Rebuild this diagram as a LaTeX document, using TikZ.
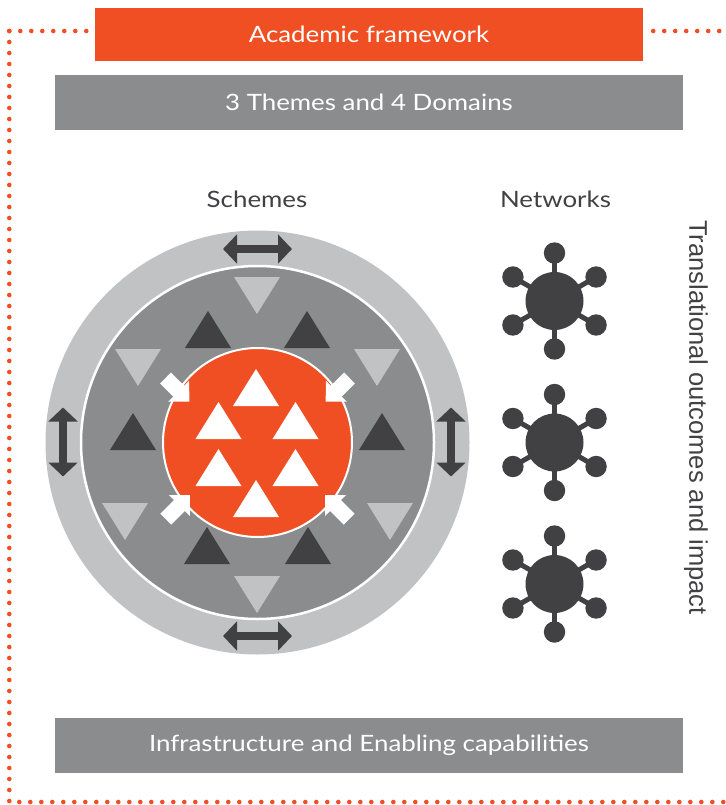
\documentclass[tikz,border=0pt]{standalone}
\usepackage{fontspec}
\setmainfont{Lato}[FakeStretch=1.15]
\newfontfamily\sidefont{Liberation Sans}
\usepackage{xcolor}
\usepackage{tikz}
\usetikzlibrary{positioning, arrows.meta}

\definecolor{acadorange}{HTML}{F04E23}
\definecolor{icondark}{HTML}{414042}
\definecolor{ringmid}{HTML}{8A8C8E}
\definecolor{ringlight}{HTML}{C1C2C4}

\begin{document}
\begin{tikzpicture}[x=1pt, y=-1pt,
  titlebox/.style={fill=acadorange, text=white, minimum width=548pt, minimum height=53pt, inner sep=0pt, font=\fontsize{22.5}{26}\selectfont},
  greybox/.style={fill=ringmid, text=white, minimum width=628pt, minimum height=55pt, inner sep=0pt, font=\fontsize{22.5}{26}\selectfont},
  heading/.style={text=icondark, inner sep=0pt, font=\fontsize{22.5}{26}\selectfont},
  sidelabel/.style={text=icondark, inner sep=0pt, font=\sidefont\fontsize{25.5}{30}\selectfont},
  dotline/.style={acadorange, line width=4.6pt, line cap=round, dash pattern=on 0pt off 11pt},
  ring/.style={circle, inner sep=0pt, outer sep=0pt},
  dbl/.style={icondark, line width=8pt, {Triangle[length=14pt, width=28.6pt]}-{Triangle[length=14pt, width=28.6pt]}},
  inward/.style={white, line width=15.5pt, -{Triangle[length=15pt, width=29pt]}},
  hub/.style={circle, fill=icondark, inner sep=0pt, minimum size=58pt},
  leaf/.style={circle, fill=icondark, inner sep=0pt, minimum size=21.4pt},
  spoke/.style={icondark, line width=5pt}]
  \useasboundingbox (0,0) rectangle (725,805);
  % Banners
  \node[titlebox] (acad) at (369,34.5) {\raisebox{-1.5pt}{Academic framework}};
  \node[greybox] (themes) at (369,102.5) {\raisebox{-1.5pt}{3 Themes and 4 Domains}};
  \node[greybox] (infra) at (369,745) {\raisebox{-1.5pt}{Infrastructure and Enabling capabilities}};
  % Dotted frame
  \coordinate (tl) at (9.3,31);
  \coordinate (bl) at (9.3,802);
  \coordinate (br) at (725,802);
  \coordinate (tr) at (725,31);
  \draw[dotline, shorten >=4pt] (tl) -- (acad.west |- tl);
  \draw[dotline] (tl) -- (bl) -- (br);
  \draw[dotline, shorten <=10pt] (acad.east |- tr) -- (tr);
  % Labels
  \node[heading] (schemes) at (257,199) {Schemes};
  \node[heading] (networks) at (555.5,199) {Networks};
  \node[sidelabel, rotate=-90] (impact) at (696,417.5) {Translational outcomes and impact};
  % Schemes circles
  \node[ring, fill=ringlight, minimum size=424pt] (outer) at (257.5,442.5) {};
  \node[ring, fill=ringmid, draw=white, line width=2.5pt, minimum size=353pt] (middle) at (outer) {};
  \node[ring, fill=acadorange, draw=white, line width=2pt, minimum size=189pt] (core) at (outer) {};
  % Triangles in the grey ring
  \foreach \cx/\ty in {208/311, 307/311, 133/413, 382/413, 207/527, 308/527}
    \fill[icondark] (\cx-23,\ty+37) -- (\cx+23,\ty+37) -- (\cx,\ty) -- cycle;
  \foreach \cx/\ty in {257/277, 138/349, 377/349, 125/503, 390/503, 257/576}
    \fill[ringlight] (\cx-23,\ty) -- (\cx+23,\ty) -- (\cx,\ty+37) -- cycle;
  % Triangles in the core
  \foreach \cx/\ty in {256/369, 218.5/402, 295.5/402, 218.5/449, 295.5/449, 256/480}
    \fill[white] (\cx-23,\ty+37) -- (\cx+23,\ty+37) -- (\cx,\ty) -- cycle;
  % Arrows
  \foreach \cx/\cy in {257.5/249, 257.5/636}
    \draw[dbl] (\cx-34.5,\cy) -- (\cx+34.5,\cy);
  \foreach \cx/\cy in {63/442, 451/442}
    \draw[dbl] (\cx,\cy-34.5) -- (\cx,\cy+34.5);
  \draw[inward] (165.5,378) -- (189.3,401.7);
  \draw[inward] (349.5,378) -- (325.7,401.7);
  \draw[inward] (165.8,519.2) -- (190,495);
  \draw[inward] (349.2,519.2) -- (325,495);
  % Networks
  \foreach \y [count=\i] in {301,442.5,584} {
    \node[hub] (hub\i) at (554.5,\y) {};
    \foreach \a in {30,90,...,330}
      \draw[spoke] (hub\i.center) -- ++(\a:48) node[leaf] {};
  }
\end{tikzpicture}
\end{document}
